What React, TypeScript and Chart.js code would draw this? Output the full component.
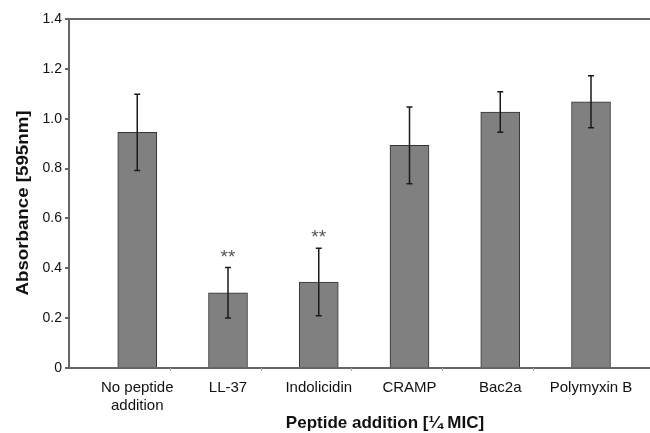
import React, { useEffect, useRef } from "react";
import { Chart, registerables } from "chart.js";

Chart.register(...registerables);

const categories: string[][] = [
  ["No peptide", "addition"],
  ["LL-37"],
  ["Indolicidin"],
  ["CRAMP"],
  ["Bac2a"],
  ["Polymyxin B"],
];
const absorbance = [0.945, 0.302, 0.345, 0.893, 1.027, 1.068];
const errors = [0.153, 0.101, 0.135, 0.154, 0.081, 0.104];
const significance = ["", "**", "**", "", "", ""];
const yTicks = [0, 0.2, 0.4, 0.6, 0.8, 1.0, 1.2, 1.4];
const xTitle = "Peptide addition [¼ MIC]";
const yTitle = "Absorbance [595nm]";

const FONT = "'Liberation Sans', Arial, Helvetica, sans-serif";

const decorPlugin = {
  id: "decor",
  afterDatasetsDraw(chart: any) {
    const xs = chart.scales.x;
    const ys = chart.scales.y;
    const ctx = chart.ctx;
    ctx.save();
    // small category tick marks on x axis
    ctx.strokeStyle = "#aaa";
    ctx.lineWidth = 1;
    for (let i = 0; i < categories.length - 1; i++) {
      const px = Math.round(xs.getPixelForValue(i + 0.36)) + 0.5;
      ctx.beginPath();
      ctx.moveTo(px, ys.bottom);
      ctx.lineTo(px, ys.bottom + 3);
      ctx.stroke();
    }
    // error bars and significance marks
    ctx.strokeStyle = "#1a1a1a";
    ctx.lineWidth = 1.5;
    absorbance.forEach((v, i) => {
      const x = xs.getPixelForValue(i);
      const yTop = ys.getPixelForValue(v + errors[i]);
      const yBot = ys.getPixelForValue(v - errors[i]);
      ctx.beginPath();
      ctx.moveTo(x, yTop);
      ctx.lineTo(x, yBot);
      ctx.moveTo(x - 3, yTop);
      ctx.lineTo(x + 3, yTop);
      ctx.moveTo(x - 3, yBot);
      ctx.lineTo(x + 3, yBot);
      ctx.stroke();
      if (significance[i]) {
        ctx.fillStyle = "#555";
        ctx.font = `19px ${FONT}`;
        ctx.textAlign = "center";
        ctx.textBaseline = "alphabetic";
        ctx.fillText(significance[i], x, yTop - 5);
      }
    });
    // axis titles
    ctx.fillStyle = "#111";
    ctx.font = `bold 17px ${FONT}`;
    ctx.textAlign = "center";
    ctx.textBaseline = "middle";
    ctx.fillText(xTitle, 385, 423);
    ctx.translate(23, 203);
    ctx.rotate(-Math.PI / 2);
    ctx.scale(1.1, 1);
    ctx.fillText(yTitle, 0, 0);
    ctx.restore();
  },
};

export default function App() {
  const ref = useRef<HTMLCanvasElement | null>(null);
  useEffect(() => {
    document.body.style.margin = "0";
    const canvas = ref.current!;
    const chart = new Chart(canvas, {
      type: "bar",
      data: {
        datasets: [
          {
            data: absorbance.map((v, i) => ({ x: i, y: v })),
            backgroundColor: "#808080",
            borderColor: "#333333",
            borderWidth: 1,
            barThickness: 39,
          },
        ],
      },
      options: {
        animation: false,
        responsive: false,
        layout: { padding: { top: 19, right: 0, left: 0, bottom: 0 } },
        plugins: { legend: { display: false }, tooltip: { enabled: false } },
        scales: {
          x: {
            type: "linear",
            offset: false,
            min: -0.752,
            max: 5.65,
            afterBuildTicks: (scale: any) => {
              scale.ticks = categories.map((_, i) => ({ value: i }));
            },
            afterFit: (scale: any) => {
              scale.height = 65;
            },
            ticks: {
              autoSkip: false,
              maxRotation: 0,
              padding: 11,
              color: "#111",
              font: { family: FONT, size: 15, lineHeight: 1.2 },
              callback: (v: any) => categories[Math.round(v)] ?? "",
            },
            grid: { display: false, drawTicks: false, offset: false },
            border: { display: true, color: "#666", width: 2 },
          },
          y: {
            min: 0,
            max: 1.4,
            afterBuildTicks: (scale: any) => {
              scale.ticks = yTicks.map((v) => ({ value: v }));
            },
            afterFit: (scale: any) => {
              scale.width = 69;
            },
            ticks: {
              padding: 3,
              color: "#111",
              font: { family: FONT, size: 14 },
              callback: (v: any) => (v === 0 ? "0" : Number(v).toFixed(1)),
            },
            grid: {
              drawOnChartArea: true,
              tickLength: 4,
              tickColor: "#666",
              lineWidth: 2,
              color: (c: any) =>
                c.tick && Math.abs(c.tick.value - 1.4) < 1e-6 ? "#666" : "rgba(0,0,0,0)",
            },
            border: { display: true, color: "#666", width: 2 },
          },
        },
      },
      plugins: [decorPlugin],
    } as any);
    return () => chart.destroy();
  }, []);
  return (
    <div style={{ width: 650, height: 433, background: "#fff" }}>
      <canvas ref={ref} width={650} height={433} style={{ display: "block" }} />
    </div>
  );
}
